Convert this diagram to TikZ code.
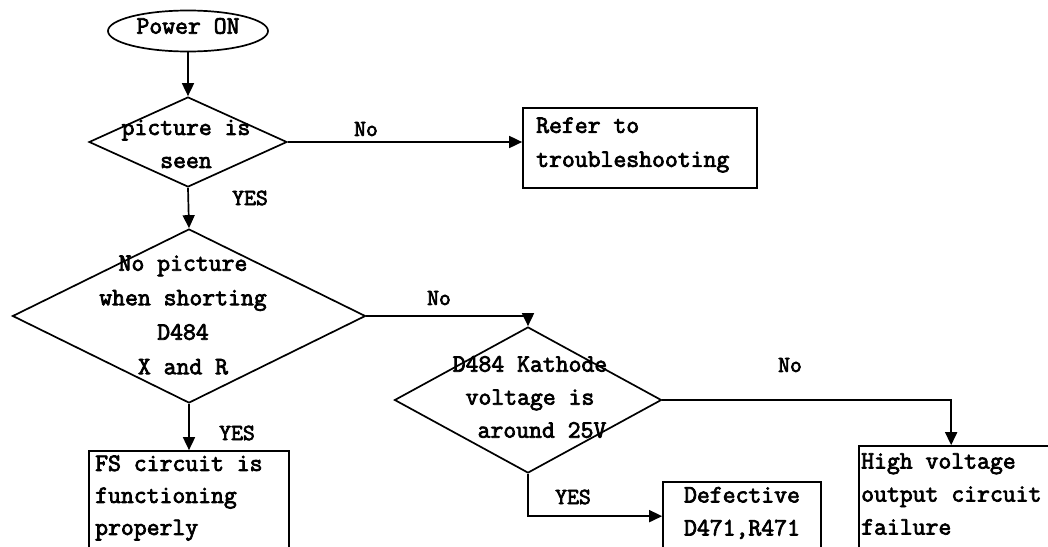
\documentclass[tikz,border=0pt]{standalone}
\usepackage{fontspec}
\newfontfamily\courfont[FakeBold=3]{Latin Modern Mono}
\usetikzlibrary{shapes.geometric,arrows.meta,calc}
\begin{document}
\begin{tikzpicture}[x=1pt,y=-1pt,
  lw/.style={line width=1.7pt},
  txt/.style={font=\courfont\fontsize{25}{33}\selectfont, inner sep=0pt},
  lbl/.style={font=\courfont\fontsize{23}{24}\selectfont, inner sep=0pt},
  dia/.style={draw, lw, diamond, inner sep=0pt},
  box/.style={draw, lw, rectangle, inner sep=0pt},
  arr/.style={lw, -{Triangle[length=13pt,width=12pt]}},
]
\path[use as bounding box] (0,0) rectangle (1048,546);
\clip (0,0) rectangle (1048,546);
% shapes
\node[draw, lw, ellipse, inner sep=0pt, minimum width=160pt, minimum height=41pt] (start) at (188,31) {};
\node[txt] (tstart) at (188,26) {Power ON};
\node[dia, minimum width=198pt, minimum height=90pt] (d1) at (188,142) {};
\node[dia, minimum width=353pt, minimum height=174pt] (d2) at (189,316) {};
\node[dia, minimum width=267pt, minimum height=146pt] (d3) at (528,400) {};
\node[box, minimum width=234pt, minimum height=80pt] (refer) at (640,148) {};
\node[box, minimum width=200pt, minimum height=129pt] (fs) at (189,515.5) {};
\node[box, minimum width=158pt, minimum height=98pt] (def) at (742,531) {};
\node[box, minimum width=241pt, minimum height=134pt] (hv) at (979.5,513) {};
% texts
\node[txt, align=center] (t1) at (186,144) {picture is\\seen};
\node[txt, align=center, font=\courfont\fontsize{25}{34.5}\selectfont] (t2) at (183,315) {No picture\\when shorting\\D484\\X and R};
\node[txt, align=center] (t3) at (530,397) {D484 Kathode\\voltage is\\\hspace*{24pt}around 25V};
\node[txt, align=left, anchor=west, font=\courfont\fontsize{25}{34}\selectfont] (t4) at (536,145) {Refer to\\troubleshooting};
\node[txt, align=left, anchor=west, font=\courfont\fontsize{25}{32}\selectfont] (t5) at (95,498) {FS circuit is\\functioning\\properly};
\node[txt, align=center] (t6) at (742,513) {Defective\\D471,R471};
\node[txt, align=left, anchor=west] (t7) at (861,494) {High voltage\\output circuit\\failure};
% connectors
\draw[arr] (start.south) -- (d1.north);
\draw[arr] (d1.south) -- (d2.north);
\draw[arr] (d1.east) -- (d1.east -| refer.west);
\draw[arr] (d2.east) -| (d3.north);
\draw[arr] (d2.south) -- (d2.south |- fs.north);
\draw[arr] (d3.east) -| ($(hv.north west)+(93,0)$);
\draw[arr] (d3.south) |- ($(def.north west)+(0,35)$);
% labels
\node[lbl] (l1) at (366,129) {No};
\node[lbl] (l2) at (250,198) {YES};
\node[lbl] (l3) at (439,298) {No};
\node[lbl] (l4) at (237,433) {YES};
\node[lbl] (l5) at (790,365) {No};
\node[lbl] (l6) at (573,497) {YES};
\end{tikzpicture}
\end{document}
